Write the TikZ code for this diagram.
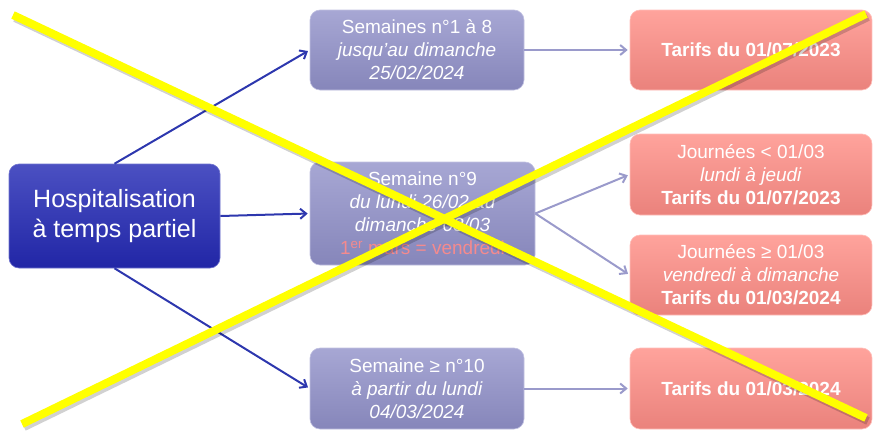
\documentclass[tikz,border=0pt]{standalone}
\usepackage{fontspec}
\setmainfont{Liberation Sans}
\usetikzlibrary{arrows.meta}
\definecolor{mainTop}{HTML}{4B50C2}
\definecolor{mainBot}{HTML}{2126A6}
\definecolor{semTop}{HTML}{A7A7D4}
\definecolor{semBot}{HTML}{8686BA}
\definecolor{tarTop}{HTML}{FFA39C}
\definecolor{tarBot}{HTML}{EA827C}
\definecolor{darkArrow}{HTML}{2D37AE}
\definecolor{lightArrow}{HTML}{9A9ACB}
\definecolor{redText}{HTML}{F48A8E}
\definecolor{crossYellow}{HTML}{FFFF00}
\tikzset{
  box/.style={rectangle, rounded corners=10pt, align=center, text=white, inner sep=0pt},
  mainbox/.style={box, top color=mainTop, bottom color=mainBot, draw=mainTop!80!white, line width=0.6pt,
    font=\fontsize{25}{30}\selectfont},
  sembox/.style={box, top color=semTop, bottom color=semBot, draw=semTop!70!white, line width=0.6pt,
    font=\fontsize{19}{23}\selectfont},
  tarbox/.style={box, top color=tarTop, bottom color=tarBot, draw=tarTop!70!white, line width=0.6pt,
    font=\fontsize{19}{23}\selectfont},
  darrow/.style={draw=darkArrow, line width=2pt, -{Straight Barb[length=6pt,width=10pt]}, shorten >=2pt},
  larrow/.style={draw=lightArrow, line width=2pt, -{Straight Barb[length=6pt,width=10pt]}, shorten >=2pt},
  crossline/.style={draw=crossYellow, line width=8pt},
  crossshadow/.style={draw=black, opacity=0.18, line width=8pt},
}
\begin{document}
\begin{tikzpicture}[x=1pt,y=-1pt]
\useasboundingbox (0,0) rectangle (873,434);
\node[mainbox, minimum width=211pt, minimum height=104pt] (main) at (114.5,216) {Hospitalisation\\à temps partiel};
\node[sembox, minimum width=214pt, minimum height=80pt] (s1) at (417,50) {Semaines n°1 à 8\\\textit{jusqu’au dimanche}\\\textit{25/02/2024}};
\node[sembox, minimum width=225pt, minimum height=103pt] (s9) at (422.5,213.5) {Semaine n°9\\\textit{du lundi 26/02 au}\\\textit{dimanche 03/03}\\\textcolor{redText}{1\textsuperscript{er} mars = vendredi}};
\node[sembox, minimum width=214pt, minimum height=81pt] (s10) at (417,388.5) {Semaine ≥ n°10\\\textit{à partir du lundi}\\\textit{04/03/2024}};
\node[tarbox, minimum width=242pt, minimum height=80pt] (t1) at (751,50) {\textbf{Tarifs du 01/07/2023}};
\node[tarbox, minimum width=242pt, minimum height=81pt] (j1) at (751,174.5) {Journées < 01/03\\\textit{lundi à jeudi}\\\textbf{Tarifs du 01/07/2023}};
\node[tarbox, minimum width=242pt, minimum height=80pt] (j2) at (751,275) {Journées ≥ 01/03\\\textit{vendredi à dimanche}\\\textbf{Tarifs du 01/03/2024}};
\node[tarbox, minimum width=242pt, minimum height=81pt] (t3) at (751,388.5) {\textbf{Tarifs du 01/03/2024}};
\draw[darrow] (main.north) -- (s1.west);
\draw[darrow] (main.east) -- (s9.west);
\draw[darrow] (main.south) -- (s10.west);
\draw[larrow] (s1.east) -- (t1.west);
\draw[larrow] (s9.east) -- (j1.west);
\draw[larrow] (s9.east) -- (j2.west);
\draw[larrow] (s10.east) -- (t3.west);
\coordinate (xa1) at (13,15);
\coordinate (xa2) at (866,418);
\coordinate (xb1) at (22,424);
\coordinate (xb2) at (866,14);
\draw[crossshadow] ([shift={(2,3)}]xa1) -- ([shift={(2,3)}]xa2);
\draw[crossshadow] ([shift={(2,3)}]xb1) -- ([shift={(2,3)}]xb2);
\draw[crossline] (xa1) -- (xa2);
\draw[crossline] (xb1) -- (xb2);
\end{tikzpicture}
\end{document}
